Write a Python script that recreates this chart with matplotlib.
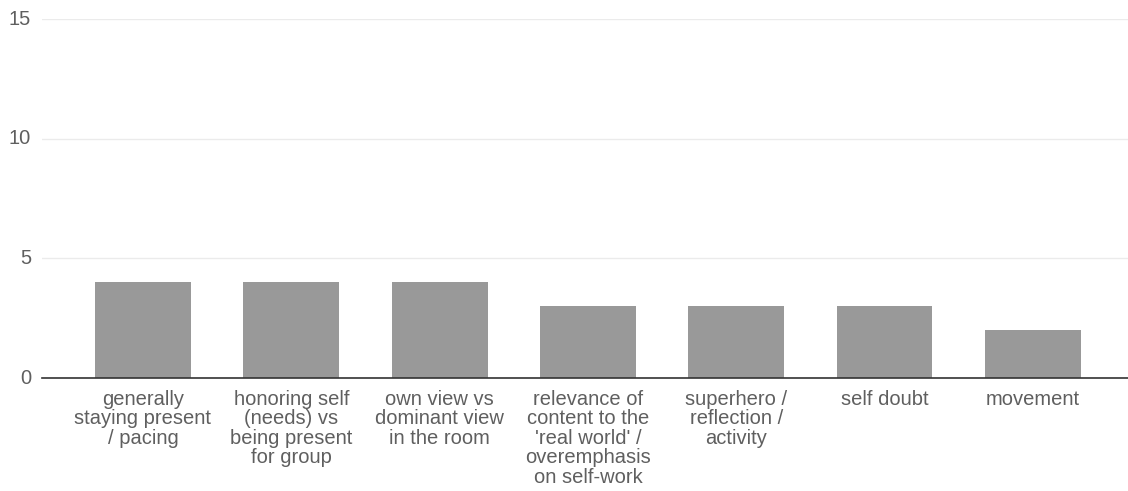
import matplotlib
matplotlib.use("Agg")
import matplotlib.pyplot as plt

categories = [
    "generally\nstaying present\n/ pacing",
    "honoring self\n(needs) vs\nbeing present\nfor group",
    "own view vs\ndominant view\nin the room",
    "relevance of\ncontent to the\n'real world' /\noveremphasis\non self-work",
    "superhero /\nreflection /\nactivity",
    "self doubt",
    "movement",
]
counts = [4, 4, 4, 3, 3, 3, 2]
y_ticks = [0, 5, 10, 15]

plt.rcParams["font.family"] = ["Liberation Sans", "DejaVu Sans"]

fig = plt.figure(figsize=(11.28, 4.91), dpi=100)
ax = fig.add_axes([42 / 1128, 1 - 378 / 491, (1128 - 42) / 1128, (378 - 19) / 491])

x = list(range(len(categories)))
ax.bar(x, counts, width=0.647, color="#999999", zorder=3)

ax.set_ylim(0, 15)
ax.set_xlim(-0.681, 6.642)
ax.set_yticks(y_ticks)
ax.set_yticklabels([str(t) for t in y_ticks])
ax.set_xticks(x)
ax.set_xticklabels(categories, linespacing=1.03)

ax.grid(axis="y", color="#ebebeb", linewidth=1, zorder=0)
for s in ["top", "right", "left"]:
    ax.spines[s].set_visible(False)
ax.spines["bottom"].set_color("#333333")
ax.spines["bottom"].set_linewidth(1.2)
ax.spines["bottom"].set_zorder(4)

ax.tick_params(axis="both", length=0, labelsize=14.5, labelcolor="#5f5f5f")
ax.tick_params(axis="y", pad=8.0)
ax.tick_params(axis="x", pad=8.5)
for lbl in ax.get_yticklabels():
    lbl.set_verticalalignment("center")

fig.savefig("out.png", dpi=100, facecolor="white")
